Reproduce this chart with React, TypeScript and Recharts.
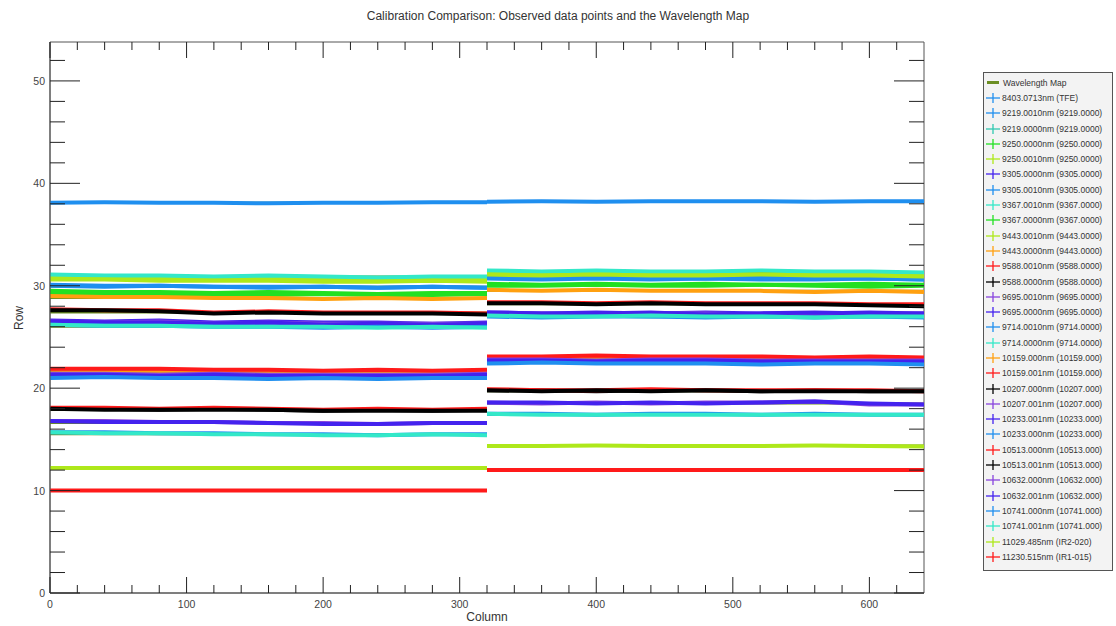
import { Legend, Line, LineChart, ReferenceArea, XAxis, YAxis } from "recharts";

const W = 1116;
const H = 626;
const MARGIN = { top: 42, right: 192, bottom: 3, left: 10 };
const Y_AXIS_W = 40;
const X_AXIS_H = 30;
const PL = MARGIN.left + Y_AXIS_W;
const PR = W - MARGIN.right;
const PT = MARGIN.top;
const PB = H - MARGIN.bottom - X_AXIS_H;
const FONT = "'Liberation Sans', Arial, Helvetica, sans-serif";

const leftCols = [0, 40, 80, 120, 160, 200, 240, 280, 320];
const rightCols = [320, 360, 400, 440, 480, 520, 560, 600, 640];
const xTicks = Array.from({ length: 32 }, (_, i) => i * 20);
const yTicks = Array.from({ length: 27 }, (_, i) => i * 2);

const C = {
  olive: "#6b8e23",
  dodger: "#1f8fef",
  blueViolet: "#4422ee",
  purple: "#8844dd",
  aqua: "#33e8c8",
  teal: "#30c8b0",
  green: "#22e022",
  yellowGreen: "#aee81a",
  orange: "#ffa010",
  red: "#ff1a1a",
  black: "#000000",
};

const seriesNames = [
  "8403.0713nm (TFE)",
  "9219.0010nm (9219.0000)",
  "9219.0000nm (9219.0000)",
  "9250.0000nm (9250.0000)",
  "9250.0010nm (9250.0000)",
  "9305.0000nm (9305.0000)",
  "9305.0010nm (9305.0000)",
  "9367.0010nm (9367.0000)",
  "9367.0000nm (9367.0000)",
  "9443.0010nm (9443.0000)",
  "9443.0000nm (9443.0000)",
  "9588.0010nm (9588.0000)",
  "9588.0000nm (9588.0000)",
  "9695.0010nm (9695.0000)",
  "9695.0000nm (9695.0000)",
  "9714.0010nm (9714.0000)",
  "9714.0000nm (9714.0000)",
  "10159.000nm (10159.000)",
  "10159.001nm (10159.000)",
  "10207.000nm (10207.000)",
  "10207.001nm (10207.000)",
  "10233.001nm (10233.000)",
  "10233.000nm (10233.000)",
  "10513.000nm (10513.000)",
  "10513.001nm (10513.000)",
  "10632.000nm (10632.000)",
  "10632.001nm (10632.000)",
  "10741.000nm (10741.000)",
  "10741.001nm (10741.000)",
  "11029.485nm (IR2-020)",
  "11230.515nm (IR1-015)",
];

const seriesColors = [
  C.dodger, C.dodger, C.teal, C.green, C.yellowGreen, C.blueViolet, C.dodger,
  C.aqua, C.green, C.yellowGreen, C.orange, C.red, C.black, C.purple,
  C.blueViolet, C.dodger, C.aqua, C.orange, C.red, C.black, C.purple,
  C.blueViolet, C.dodger, C.red, C.black, C.purple, C.blueViolet, C.dodger,
  C.aqua, C.yellowGreen, C.red,
];

// row values at leftCols (columns 0-320)
const rowsLeft = [
  [38.1, 38.15, 38.1, 38.1, 38.05, 38.1, 38.1, 38.15, 38.15],
  [30.0, 29.9, 30.0, 29.9, 29.8, 29.9, 29.8, 29.9, 29.8],
  [26.3, 26.2, 26.3, 26.1, 26.2, 26.0, 26.1, 26.0, 26.1],
  [29.5, 29.4, 29.4, 29.3, 29.4, 29.3, 29.2, 29.3, 29.3],
  [30.8, 30.7, 30.8, 30.6, 30.7, 30.6, 30.6, 30.7, 30.6],
  [26.6, 26.5, 26.6, 26.4, 26.5, 26.4, 26.4, 26.3, 26.4],
  [30.1, 30.0, 30.0, 29.9, 29.9, 29.9, 29.8, 29.9, 29.8],
  [31.1, 31.0, 31.0, 30.9, 31.0, 30.9, 30.8, 30.9, 30.9],
  [29.3, 29.3, 29.2, 29.2, 29.1, 29.2, 29.1, 29.1, 29.2],
  [30.6, 30.6, 30.5, 30.5, 30.5, 30.4, 30.4, 30.5, 30.4],
  [29.0, 28.9, 28.9, 28.8, 28.8, 28.7, 28.8, 28.7, 28.8],
  [27.7, 27.6, 27.6, 27.4, 27.5, 27.4, 27.4, 27.4, 27.3],
  [27.6, 27.6, 27.5, 27.3, 27.4, 27.3, 27.3, 27.3, 27.2],
  [26.5, 26.4, 26.5, 26.3, 26.4, 26.3, 26.3, 26.3, 26.3],
  [26.5, 26.4, 26.4, 26.3, 26.4, 26.2, 26.3, 26.2, 26.3],
  [26.2, 26.1, 26.1, 26.0, 26.0, 25.9, 26.0, 25.9, 26.0],
  [26.2, 26.1, 26.1, 26.0, 26.0, 26.0, 25.9, 26.0, 25.9],
  [21.8, 21.7, 21.7, 21.7, 21.6, 21.6, 21.6, 21.6, 21.6],
  [21.9, 21.9, 21.9, 21.8, 21.8, 21.7, 21.8, 21.7, 21.8],
  [18.0, 18.0, 17.9, 18.0, 17.9, 17.8, 17.9, 17.8, 17.9],
  [21.4, 21.4, 21.3, 21.4, 21.3, 21.3, 21.3, 21.3, 21.4],
  [21.3, 21.3, 21.2, 21.3, 21.2, 21.2, 21.2, 21.2, 21.3],
  [21.0, 21.1, 21.0, 21.0, 20.9, 21.0, 20.9, 21.0, 21.0],
  [18.1, 18.1, 18.0, 18.1, 18.0, 17.9, 18.0, 17.9, 18.0],
  [18.0, 17.9, 17.9, 17.9, 17.9, 17.8, 17.8, 17.8, 17.8],
  [16.8, 16.8, 16.7, 16.7, 16.6, 16.6, 16.5, 16.6, 16.6],
  [16.8, 16.7, 16.7, 16.7, 16.6, 16.5, 16.5, 16.6, 16.6],
  [15.7, 15.7, 15.6, 15.6, 15.5, 15.5, 15.4, 15.5, 15.5],
  [15.7, 15.6, 15.6, 15.5, 15.5, 15.4, 15.4, 15.5, 15.4],
  [12.2, 12.2, 12.2, 12.2, 12.2, 12.2, 12.2, 12.2, 12.2],
  [10.0, 10.0, 10.0, 10.0, 10.0, 10.0, 10.0, 10.0, 10.0],
];

// row values at rightCols (columns 320-640)
const rowsRight = [
  [38.2, 38.25, 38.2, 38.25, 38.25, 38.25, 38.2, 38.25, 38.25],
  [30.7, 30.6, 30.7, 30.6, 30.7, 30.6, 30.6, 30.7, 30.6],
  [27.1, 27.0, 27.1, 27.0, 27.1, 27.0, 27.0, 27.1, 27.0],
  [30.2, 30.1, 30.2, 30.1, 30.2, 30.1, 30.1, 30.2, 30.1],
  [31.2, 31.1, 31.2, 31.1, 31.2, 31.1, 31.2, 31.1, 31.1],
  [27.4, 27.3, 27.4, 27.3, 27.4, 27.3, 27.3, 27.4, 27.3],
  [30.8, 30.7, 30.8, 30.7, 30.7, 30.8, 30.7, 30.7, 30.6],
  [31.5, 31.4, 31.5, 31.4, 31.4, 31.5, 31.4, 31.4, 31.3],
  [30.0, 30.0, 30.1, 30.0, 30.0, 30.1, 30.0, 29.9, 30.0],
  [31.1, 31.0, 31.1, 31.0, 31.0, 31.1, 31.0, 31.0, 30.9],
  [29.6, 29.5, 29.6, 29.5, 29.5, 29.5, 29.4, 29.5, 29.4],
  [28.4, 28.4, 28.3, 28.4, 28.3, 28.3, 28.3, 28.2, 28.2],
  [28.3, 28.3, 28.2, 28.3, 28.2, 28.2, 28.2, 28.1, 28.0],
  [27.3, 27.3, 27.2, 27.3, 27.3, 27.2, 27.3, 27.2, 27.3],
  [27.4, 27.3, 27.3, 27.4, 27.2, 27.3, 27.4, 27.3, 27.3],
  [27.0, 26.9, 27.0, 27.0, 26.9, 27.0, 26.9, 27.0, 26.9],
  [27.1, 27.0, 27.0, 27.1, 27.0, 27.0, 26.9, 27.0, 27.0],
  [23.0, 23.0, 23.0, 22.9, 23.0, 22.9, 22.9, 23.0, 22.9],
  [23.1, 23.1, 23.2, 23.1, 23.1, 23.1, 23.0, 23.1, 23.0],
  [19.8, 19.8, 19.7, 19.8, 19.8, 19.7, 19.8, 19.7, 19.7],
  [22.8, 22.8, 22.7, 22.8, 22.8, 22.7, 22.7, 22.7, 22.7],
  [22.7, 22.7, 22.6, 22.7, 22.7, 22.6, 22.6, 22.6, 22.6],
  [22.4, 22.5, 22.4, 22.4, 22.4, 22.3, 22.4, 22.4, 22.3],
  [19.9, 19.8, 19.8, 19.9, 19.8, 19.8, 19.8, 19.8, 19.7],
  [19.8, 19.7, 19.8, 19.7, 19.8, 19.7, 19.7, 19.7, 19.7],
  [18.6, 18.5, 18.6, 18.5, 18.6, 18.6, 18.7, 18.4, 18.4],
  [18.6, 18.6, 18.5, 18.6, 18.5, 18.6, 18.7, 18.5, 18.4],
  [17.5, 17.5, 17.4, 17.5, 17.5, 17.4, 17.5, 17.4, 17.4],
  [17.5, 17.4, 17.4, 17.4, 17.4, 17.4, 17.4, 17.4, 17.4],
  [14.35, 14.35, 14.4, 14.35, 14.35, 14.35, 14.4, 14.35, 14.3],
  [12.0, 12.0, 12.0, 12.0, 12.0, 12.0, 12.0, 12.0, 12.0],
];

// wavelength map levels for each cluster
const mapCols = { left: [0, 320], right: [320, 640] };
const mapLeft = [38.1, 30.9, 29.9, 29.3, 28.8, 27.4, 26.3, 26.0, 21.6, 17.9, 16.6, 15.5, 12.3, 10.0];
const mapRight = [38.2, 31.3, 30.7, 30.1, 29.5, 28.2, 27.3, 27.0, 22.8, 19.7, 18.5, 17.4, 14.4, 12.0];

const toPoints = (cols: number[], vals: number[]) =>
  cols.map((col, i) => ({ col, row: vals[i] }));

const XTick = (props: any) => {
  const { x, payload } = props;
  const v = payload.value as number;
  const major = v % 100 === 0;
  const len = major ? 16 : 8;
  return (
    <g>
      <line x1={x} x2={x} y1={PB} y2={PB - len} stroke="#222" />
      <line x1={x} x2={x} y1={PT} y2={PT + len} stroke="#222" />
      {major && (
        <text x={x} y={PB + 15} textAnchor="middle" fontSize={10.5} fill="#444" fontFamily={FONT}>
          {v}
        </text>
      )}
    </g>
  );
};

const YTick = (props: any) => {
  const { y, payload } = props;
  const v = payload.value as number;
  const major = v % 10 === 0;
  const len = major ? 30 : 15;
  return (
    <g>
      <line x1={PL} x2={PL + len} y1={y} y2={y} stroke="#222" />
      <line x1={PR - len} x2={PR} y1={y} y2={y} stroke="#222" />
      {major && (
        <text x={PL - 5} y={y + 4} textAnchor="end" fontSize={10.5} fill="#444" fontFamily={FONT}>
          {v}
        </text>
      )}
    </g>
  );
};

const LegendBox = () => (
  <div
    style={{
      width: 128,
      border: "1px solid #555",
      background: "#f3f3f3",
      padding: "2px 0 5px 0",
      fontFamily: FONT,
      fontSize: 8.5,
      color: "#333",
    }}
  >
    <div style={{ display: "flex", alignItems: "center", height: 15.3 }}>
      <div style={{ width: 12, height: 3, background: C.olive, margin: "0 4px 0 3px" }} />
      <span>Wavelength Map</span>
    </div>
    {seriesNames.map((name, i) => (
      <div key={name} style={{ display: "flex", alignItems: "center", height: 15.3 }}>
        <svg width={14} height={12} style={{ margin: "0 2px 0 2px" }}>
          <line x1={0} x2={14} y1={6} y2={6} stroke={seriesColors[i]} strokeWidth={1.3} />
          <line x1={7} x2={7} y1={1} y2={11} stroke={seriesColors[i]} strokeWidth={1.3} />
        </svg>
        <span style={{ whiteSpace: "nowrap" }}>{name}</span>
      </div>
    ))}
  </div>
);

export default function App() {
  return (
    <div style={{ position: "absolute", left: 0, top: 0, width: W, height: H, background: "#fff" }}>
      <div
        style={{
          position: "absolute",
          top: 9,
          left: 0,
          width: W,
          textAlign: "center",
          fontFamily: FONT,
          fontSize: 12,
          color: "#333",
        }}
      >
        Calibration Comparison: Observed data points and the Wavelength Map
      </div>
      <div
        style={{
          position: "absolute",
          top: 610,
          left: PL,
          width: PR - PL,
          textAlign: "center",
          fontFamily: FONT,
          fontSize: 12,
          color: "#333",
        }}
      >
        Column
      </div>
      <div
        style={{
          position: "absolute",
          left: 19,
          top: (PT + PB) / 2,
          transform: "translate(-50%, -50%) rotate(-90deg)",
          fontFamily: FONT,
          fontSize: 12,
          color: "#333",
        }}
      >
        Row
      </div>
      <LineChart width={W} height={H} margin={MARGIN}>
        <XAxis
          dataKey="col"
          type="number"
          domain={[0, 640]}
          ticks={xTicks}
          interval={0}
          tick={XTick}
          tickLine={false}
          axisLine={{ stroke: "#555" }}
          height={X_AXIS_H}
          allowDataOverflow
        />
        <YAxis
          type="number"
          domain={[0, 53.8]}
          ticks={yTicks}
          interval={0}
          tick={YTick}
          tickLine={false}
          axisLine={{ stroke: "#555" }}
          width={Y_AXIS_W}
          allowDataOverflow
        />
        <ReferenceArea x1={0} x2={640} y1={0} y2={53.8} fill="none" stroke="#555" />
        {mapLeft.map((v, i) => (
          <Line
            key={`ml${i}`}
            data={toPoints(mapCols.left, [v, v])}
            dataKey="row"
            stroke={C.olive}
            strokeWidth={2}
            dot={false}
            activeDot={false}
            isAnimationActive={false}
          />
        ))}
        {mapRight.map((v, i) => (
          <Line
            key={`mr${i}`}
            data={toPoints(mapCols.right, [v, v])}
            dataKey="row"
            stroke={C.olive}
            strokeWidth={2}
            dot={false}
            activeDot={false}
            isAnimationActive={false}
          />
        ))}
        {seriesNames.map((name, i) => (
          <Line
            key={`l${name}`}
            name={name}
            data={toPoints(leftCols, rowsLeft[i])}
            dataKey="row"
            stroke={seriesColors[i]}
            strokeWidth={4}
            strokeLinejoin="round"
            dot={false}
            activeDot={false}
            isAnimationActive={false}
          />
        ))}
        {seriesNames.map((name, i) => (
          <Line
            key={`r${name}`}
            name={name}
            data={toPoints(rightCols, rowsRight[i])}
            dataKey="row"
            stroke={seriesColors[i]}
            strokeWidth={4}
            strokeLinejoin="round"
            dot={false}
            activeDot={false}
            isAnimationActive={false}
          />
        ))}
        <Legend
          layout="vertical"
          align="center"
          verticalAlign="middle"
          content={LegendBox}
          wrapperStyle={{ left: 983, top: 72, width: 130 }}
        />
      </LineChart>
    </div>
  );
}
